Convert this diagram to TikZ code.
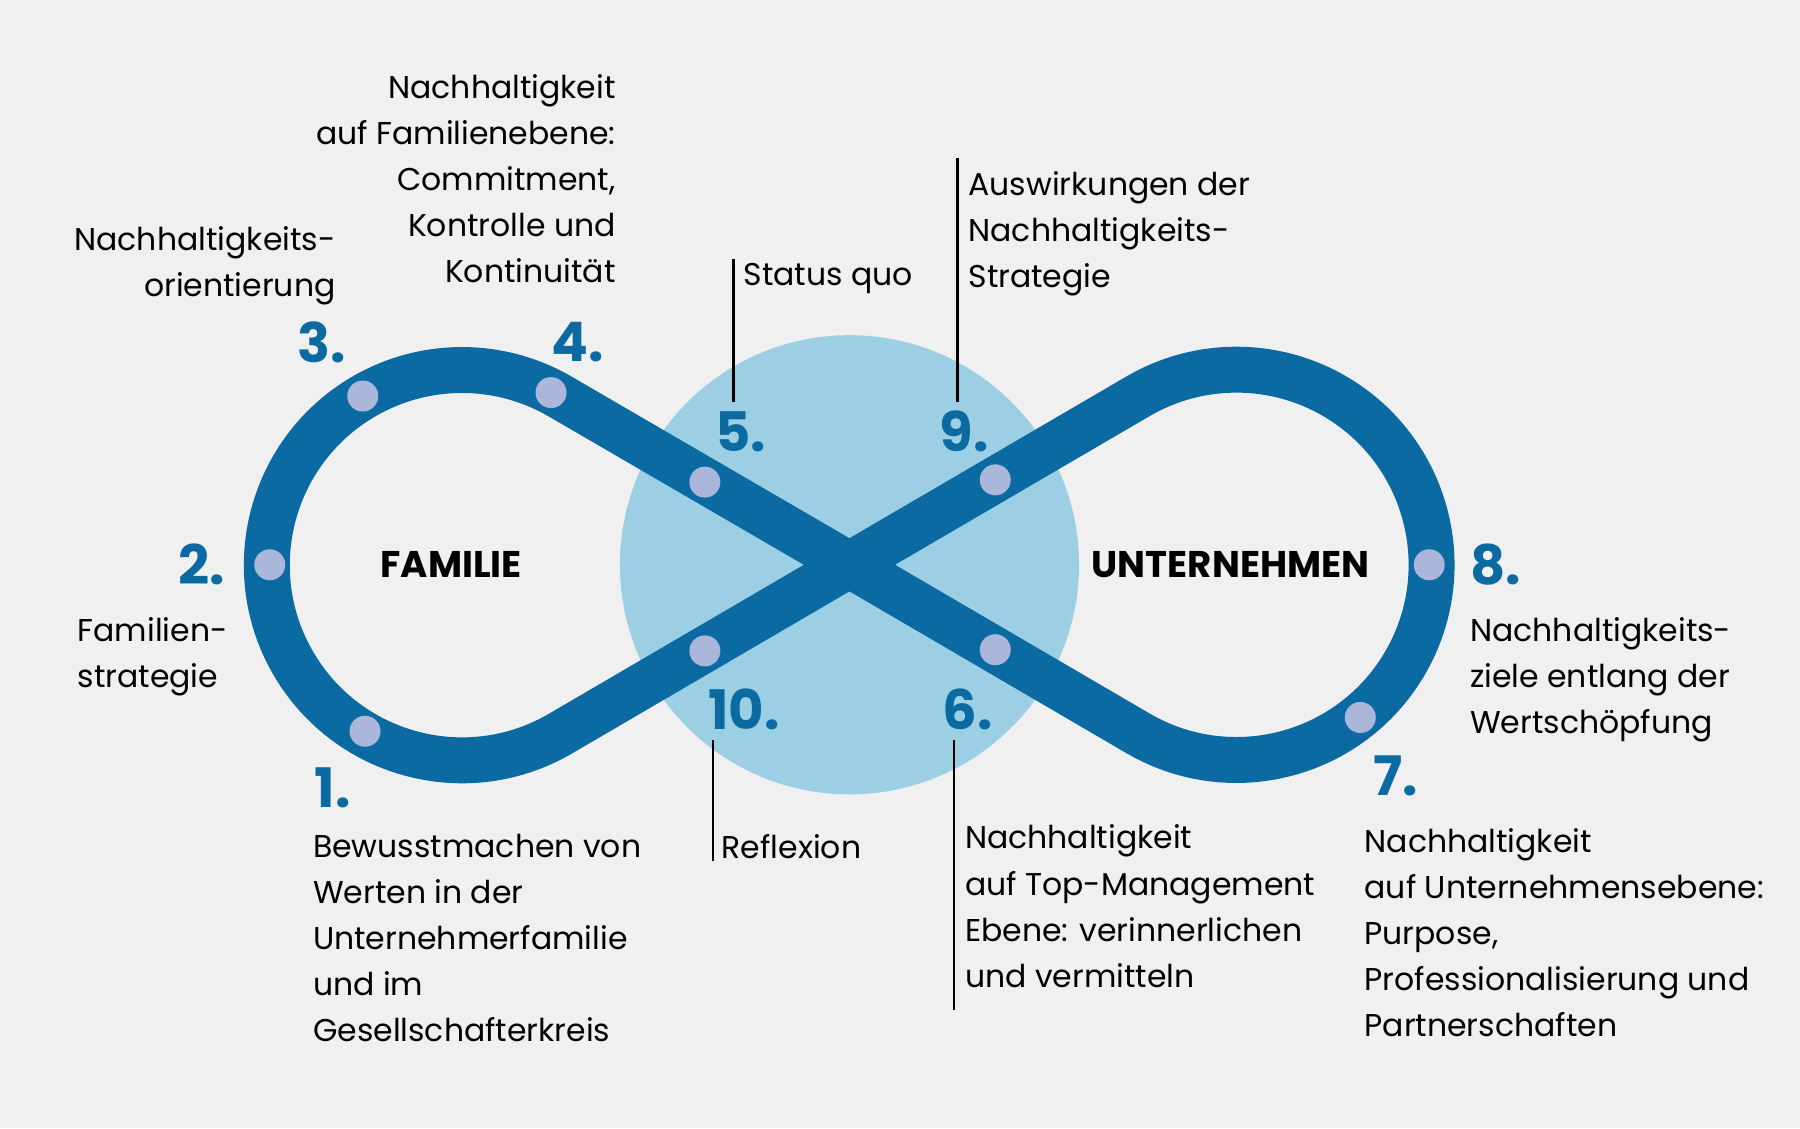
\documentclass[tikz,border=0pt]{standalone}
\usepackage{fontspec}
\setmainfont{Poppins}
\usetikzlibrary{positioning, backgrounds}
\definecolor{bandblue}{HTML}{0A6AA1}
\definecolor{discblue}{HTML}{9DCFE4}
\definecolor{dotgrey}{HTML}{AAB6DA}
\definecolor{bggrey}{HTML}{F0F0F0}
\tikzset{
  band/.style={draw=bandblue, line width=0.4cm, line join=round},
  stop/.style={circle, fill=dotgrey, minimum size=0.27cm, inner sep=0pt},
  num/.style={text=bandblue, font=\fontsize{13.5}{14}\selectfont\bfseries, inner sep=0pt},
  txt/.style={font=\fontsize{7.8}{11.4}\selectfont, inner sep=0pt},
  loop/.style={font=\fontsize{9.2}{11}\selectfont\bfseries, inner sep=0pt},
  leader/.style={draw=black, line width=0.6pt},
}

\begin{document}
\begin{tikzpicture}[x=0.01cm, y=-0.01cm]

    \fill [bggrey] (0,0) rectangle (1568,983);
    \useasboundingbox (0,0) rectangle (1568,983);

    \fill [discblue] (740,492) circle [radius=200];
    \coordinate (X) at (740,492);
    \draw [band] (X) -- (488.7,638.8) arc [start angle=59.5, end angle=300.5, radius=170]
        -- (X) -- (991.3,638.8) arc [start angle=120.3, end angle=-120.3, radius=170] -- cycle;

    \node [stop] (s1) at (318,637) {};
    \node [stop] (s2) at (235,492) {};
    \node [stop] (s3) at (316,345) {};
    \node [stop] (s4) at (480,342) {};
    \node [stop] (s5) at (614,420) {};
    \node [stop] (s6) at (867,566) {};
    \node [stop] (s7) at (1185,625) {};
    \node [stop] (s8) at (1245,492) {};
    \node [stop] (s9) at (867,418) {};
    \node [stop] (s10) at (614,567) {};

    \node [loop] (fam) at (393,492) {FAMILIE};
    \node [loop] (unt) at (1072,492) {UNTERNEHMEN};

    \node [num] (n1) at (290,686) {1.};
    \node [num] (n2) at (176,492) {2.};
    \node [num] (n3) at (280,298) {3.};
    \node [num] (n4) at (503,298) {4.};
    \node [num] (n5) at (645,376) {5.};
    \node [num] (n6) at (843,618) {6.};
    \node [num] (n7) at (1216,676) {7.};
    \node [num] (n8) at (1303,492) {8.};
    \node [num] (n9) at (840,376) {9.};
    \node [num] (n10) at (648,618) {10.};

    \node [txt, anchor=north east, align=right] (t3) at (293,197) {Nachhaltigkeits-\\orientierung};
    \node [txt, anchor=north east, align=right] (t4) at (537,64) {Nachhaltigkeit\\auf Familienebene:\\Commitment,\\Kontrolle und\\Kontinuität};
    \node [txt, anchor=north west] (t5) at (647,229) {Status quo};
    \node [txt, anchor=north west, align=left] (t9) at (843,149) {Auswirkungen der\\Nachhaltigkeits-\\Strategie};
    \node [txt, anchor=north west, align=left] (t2) at (67,537) {Familien-\\strategie};
    \node [txt, anchor=north west, align=left] (t8) at (1280,537) {Nachhaltigkeits-\\ziele entlang der\\Wertschöpfung};
    \node [txt, anchor=north west, align=left] (t1) at (272,726) {Bewusstmachen von\\Werten in der\\Unternehmerfamilie\\und im\\Gesellschafterkreis};
    \node [txt, anchor=north west] (t10) at (628,726) {Reflexion};
    \node [txt, anchor=north west, align=left] (t6) at (840,718) {Nachhaltigkeit\\auf Top-Management\\Ebene: verinnerlichen\\und vermitteln};
    \node [txt, anchor=north west, align=left] (t7) at (1188,721) {Nachhaltigkeit\\auf Unternehmensebene:\\Purpose,\\Professionalisierung und\\Partnerschaften};

    \coordinate (l5a) at (639,226);  \coordinate (l5b) at (639,350);
    \coordinate (l9a) at (834,138);  \coordinate (l9b) at (834,350);
    \coordinate (l10a) at (621,645); \coordinate (l10b) at (621,750);
    \coordinate (l6a) at (831,645);  \coordinate (l6b) at (831,880);
    \draw [leader] (l5a) -- (l5b);
    \draw [leader] (l9a) -- (l9b);
    \draw [leader] (l10a) -- (l10b);
    \draw [leader] (l6a) -- (l6b);

\end{tikzpicture}
\end{document}
